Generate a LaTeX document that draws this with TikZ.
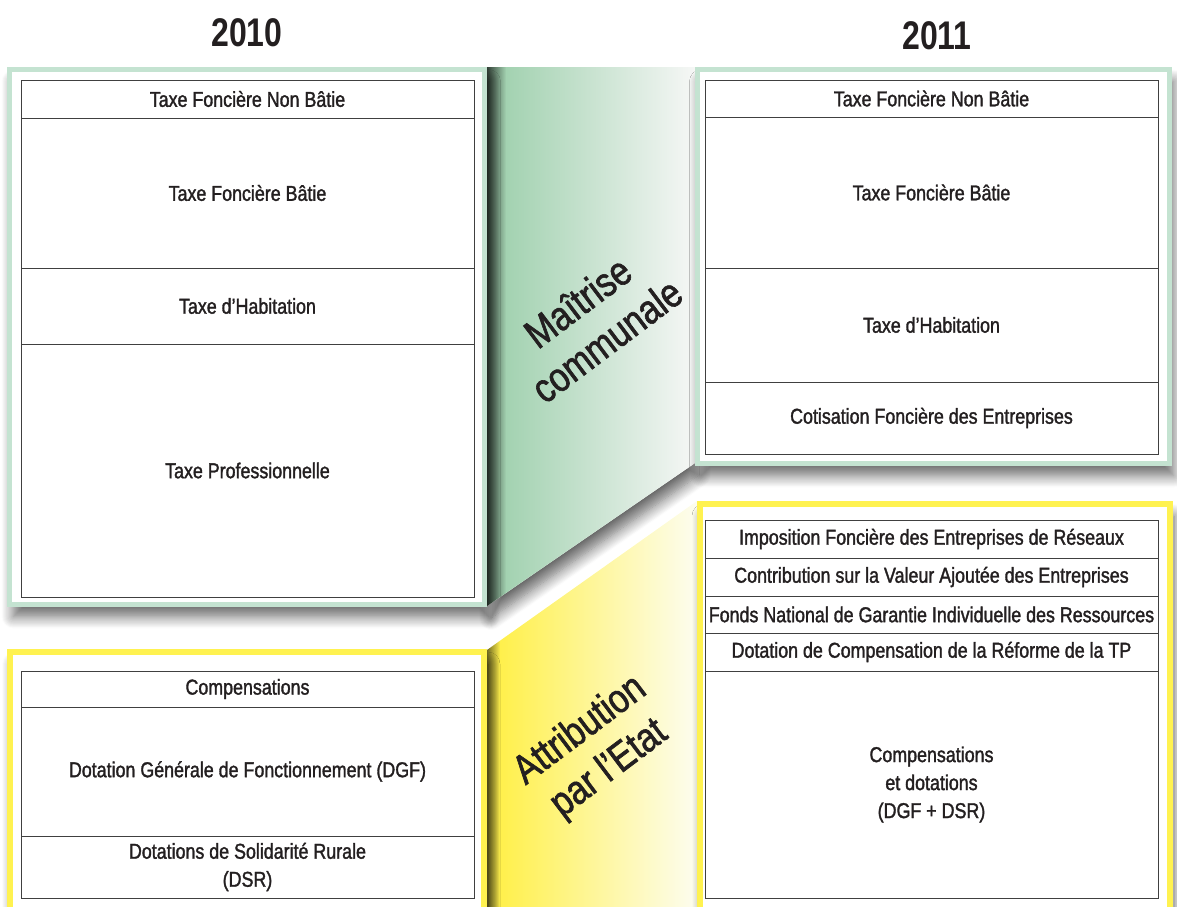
\documentclass[tikz,border=0pt]{standalone}
\usepackage{fontspec}
\setmainfont{Liberation Sans}[FakeStretch=0.83, FakeBold=1.5]
\newfontfamily\yearfont{Liberation Sans}[FakeStretch=0.8]
\usetikzlibrary{positioning, shadows.blur}
\definecolor{framegreen}{RGB}{196,227,209}
\definecolor{bandgreen}{RGB}{163,210,177}
\definecolor{bandwhite}{RGB}{246,247,246}
\definecolor{frameyellow}{RGB}{255,242,80}
\definecolor{bandyellow}{RGB}{255,240,76}
\definecolor{bandcream}{RGB}{253,253,240}
\definecolor{textgray}{RGB}{35,31,32}
\definecolor{linegray}{RGB}{64,64,64}
\tikzset{
cell/.style={draw=linegray, line width=1pt, minimum width=453pt, inner sep=0pt, outer sep=0pt, align=center, text=textgray, font=\fontsize{21.5}{28}\selectfont}, % one row of a table
panelshadow/.style={blur shadow={shadow xshift=4pt, shadow yshift=-12pt, shadow blur radius=12pt, shadow blur steps=12, shadow opacity=60}},
greenframe/.style={draw=framegreen, line width=5pt, fill=white, panelshadow}, % local taxes
yellowframe/.style={draw=frameyellow, line width=6pt, fill=white, panelshadow}, % state grants
year/.style={text=textgray, font=\yearfont\bfseries\fontsize{40}{48}\selectfont},
bandlabel/.style={text=textgray, align=center, rotate=37, font=\fontsize{41}{48}\selectfont},
}

\begin{document}
\begin{tikzpicture}[x=1pt, y=-1pt]
  \useasboundingbox (0,0) rectangle (1177,906);

  % yellow band
  \shade[left color=black!55!bandyellow, right color=bandyellow] (487,650) -- (500,640.7) -- (500,915) -- (487,915) -- cycle;
  \shade[left color=bandyellow, right color=bandcream] (500,640.7) -- (697,501) -- (697,915) -- (500,915) -- cycle;

  % green band
  \fill[white, panelshadow] (487,67) -- (695,67) -- (695,463) -- (487,606) -- cycle;
  \begin{scope}
    \clip (487,67) -- (695,67) -- (695,463) -- (487,606) -- cycle;
    \shade[left color=black!70!bandgreen, right color=bandgreen] (487,60) rectangle (506,620);
    \shade[left color=bandgreen, right color=bandwhite] (506,60) rectangle (695,620);
  \end{scope}

  % frames
  \draw[greenframe] (9.5,69.5) rectangle (484.5,604.5);
  \draw[greenframe] (697.5,69.5) rectangle (1169.5,463.5);
  \draw[yellowframe] (10,652) rectangle (484,930);
  \draw[yellowframe] (700,504) rectangle (1170,930);

  \node[year] (y2010) at (247,33) {2010};
  \node[year] (y2011) at (937,36) {2011};

  % 2010, local taxes
  \node[cell, minimum height=38pt, anchor=north west] (tfnb10) at (21,80) {Taxe Foncière Non Bâtie};
  \node[cell, minimum height=150pt, below=0pt of tfnb10] (tfb10) {Taxe Foncière Bâtie};
  \node[cell, minimum height=76pt, below=0pt of tfb10] (th10) {Taxe d’Habitation};
  \node[cell, minimum height=253pt, below=0pt of th10] (tp10) {Taxe Professionnelle};

  % 2011, local taxes
  \node[cell, minimum height=37pt, anchor=north west] (tfnb11) at (705,80) {Taxe Foncière Non Bâtie};
  \node[cell, minimum height=151pt, below=0pt of tfnb11] (tfb11) {Taxe Foncière Bâtie};
  \node[cell, minimum height=114pt, below=0pt of tfb11] (th11) {Taxe d’Habitation};
  \node[cell, minimum height=72pt, below=0pt of th11] (cfe11) {Cotisation Foncière des Entreprises};

  % 2010, state grants
  \node[cell, minimum height=36pt, anchor=north west] (comp10) at (21,671) {Compensations};
  \node[cell, minimum height=129pt, below=0pt of comp10] (dgf10) {Dotation Générale de Fonctionnement (DGF)};
  \node[cell, minimum height=62pt, below=0pt of dgf10] (dsr10) {Dotations de Solidarité Rurale\\(DSR)};

  % 2011, state grants
  \node[cell, minimum height=38pt, anchor=north west] (ifer11) at (705,520) {Imposition Foncière des Entreprises de Réseaux};
  \node[cell, minimum height=38pt, below=0pt of ifer11] (cvae11) {Contribution sur la Valeur Ajoutée des Entreprises};
  \node[cell, minimum height=37pt, below=0pt of cvae11] (fngir11) {Fonds National de Garantie Individuelle des Ressources};
  \node[cell, minimum height=38pt, below=0pt of fngir11] (dcrtp11) {Dotation de Compensation de la Réforme de la TP};
  \node[cell, minimum height=227pt, below=0pt of dcrtp11] (cd11) {Compensations\\et dotations\\(DGF + DSR)};

  \node[bandlabel] (maitrise) at (592,321) {Maîtrise\\communale};
  \node[bandlabel] (attribution) at (595,750) {Attribution\\par l’Etat};
\end{tikzpicture}
\end{document}
